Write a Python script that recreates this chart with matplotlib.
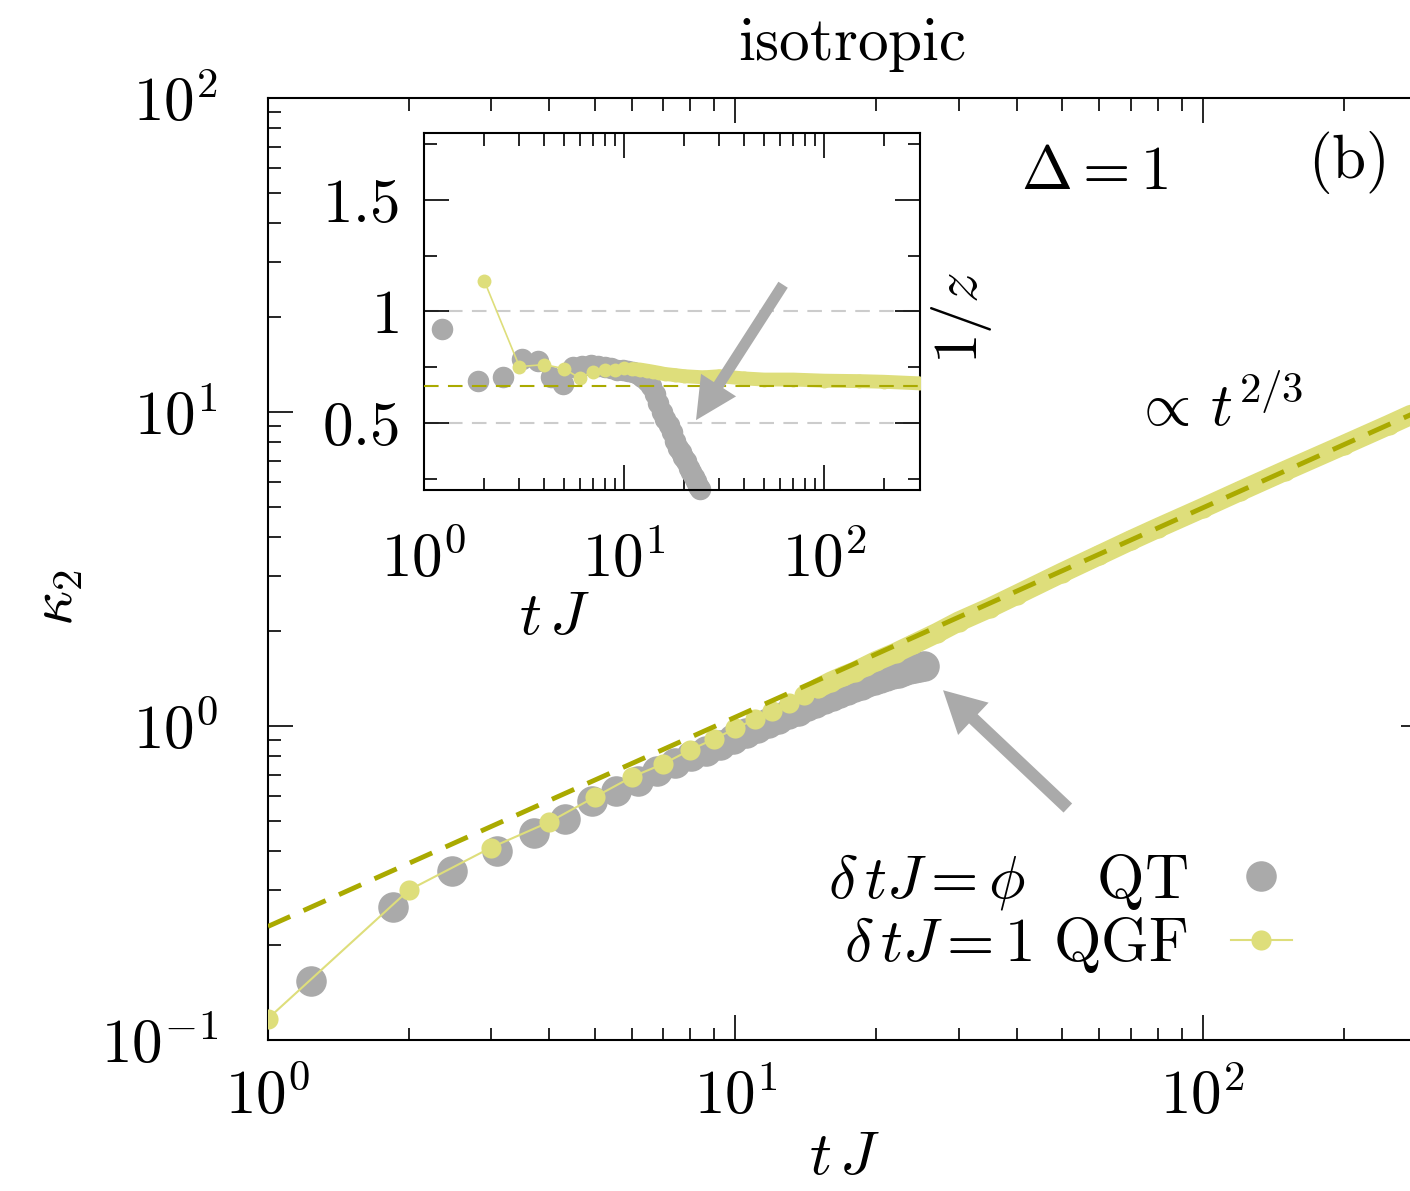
import numpy as np
import matplotlib
matplotlib.use('Agg')
import matplotlib.pyplot as plt
from matplotlib.ticker import FuncFormatter, LogLocator, NullFormatter, MultipleLocator

plt.rcParams['mathtext.fontset'] = 'cm'
plt.rcParams['font.family'] = ['serif']
plt.rcParams['font.serif'] = ['cmr10', 'DejaVu Serif']

# QT data, dt*J = phi
qt_t = [1.236, 1.854, 2.472, 3.090, 3.708, 4.326, 4.944, 5.562, 6.180, 6.798,
        7.416, 8.034, 8.652, 9.270, 9.888, 10.51, 11.12, 11.74, 12.36, 12.98,
        13.60, 14.22, 14.83, 15.45, 16.07, 16.69, 17.31, 17.93, 18.54, 19.16,
        19.78, 20.40, 21.02, 21.63, 22.25, 22.87, 23.49, 24.11, 24.72, 25.34]
qt_k2 = [0.154, 0.265, 0.345, 0.40, 0.455, 0.505, 0.575, 0.623, 0.670, 0.721,
         0.76, 0.80, 0.835, 0.87, 0.91, 0.95, 0.985, 1.02, 1.055, 1.09,
         1.12, 1.155, 1.185, 1.215, 1.245, 1.275, 1.30, 1.33, 1.355, 1.38,
         1.40, 1.425, 1.445, 1.465, 1.48, 1.50, 1.515, 1.53, 1.54, 1.55]
qt_invz = [0.92, 0.69, 0.705, 0.786, 0.777, 0.705, 0.674, 0.75, 0.757, 0.76,
           0.755, 0.75, 0.745, 0.74, 0.738, 0.735, 0.73, 0.72, 0.705, 0.69,
           0.665, 0.63, 0.59, 0.55, 0.52, 0.49, 0.46, 0.42, 0.39, 0.37,
           0.35, 0.33, 0.30, 0.28, 0.26, 0.24, 0.22, 0.205]

# QGF data, dt*J = 1
qgf_t = [1, 2, 3, 4, 5, 6, 7, 8, 9, 10, 11, 12, 13, 14, 15, 16, 17, 18, 19, 20,
         22, 24, 27, 30, 35, 40, 50, 60, 70, 80, 100, 120, 150, 200, 250, 300]
qgf_k2 = [0.117, 0.30, 0.41, 0.495, 0.594, 0.688, 0.757, 0.839, 0.909, 0.983,
          1.05, 1.119, 1.186, 1.255, 1.318, 1.384, 1.44, 1.49, 1.55, 1.61,
          1.71, 1.82, 1.98, 2.15, 2.38, 2.62, 3.08, 3.50, 3.90, 4.27,
          4.95, 5.60, 6.50, 7.85, 9.10, 10.3]
qgf_inv_t = [2, 3, 4, 5, 6, 7, 8, 9, 10, 11, 12, 13, 14, 15, 16, 18, 20, 25,
             30, 40, 50, 70, 100, 150, 200, 300]
qgf_invz = [1.138, 0.753, 0.762, 0.744, 0.702, 0.731, 0.738, 0.737, 0.749, 0.742,
            0.74, 0.735, 0.73, 0.725, 0.72, 0.715, 0.71, 0.705, 0.71, 0.70,
            0.695, 0.695, 0.69, 0.688, 0.685, 0.678]

fit_amp = 0.23
fit_exp = 2.0 / 3.0
fit_t = np.array([1.0, 300.0])

gray = '#aaaaaa'
yellow = '#dede7b'
olive = '#aaaa00'
fs = 44

fig = plt.figure(figsize=(14.1, 11.91), dpi=100)
W, H = 1410.0, 1191.0
ax = fig.add_axes([268 / W, 1 - 1040 / H, 1158 / W, 942 / H])

ax.plot(qt_t, qt_k2, 'o', color=gray, ms=22, mew=0, zorder=2)
t_arr = np.array(qgf_t)
k_arr = np.array(qgf_k2)
band = t_arr >= 15
ax.plot(t_arr[band], k_arr[band], '-', color=yellow, lw=14.5,
        solid_capstyle='round', zorder=3)
ax.plot(qgf_t, qgf_k2, '-o', color=yellow, lw=1.5, ms=14.5, mew=0, zorder=3)
ax.plot(fit_t, fit_amp * fit_t ** fit_exp, color=olive, lw=3.5,
        dashes=(5, 3), zorder=4)

ax.set_xscale('log')
ax.set_yscale('log')
ax.set_xlim(1, 300)
ax.set_ylim(0.1, 100)

logfmt = FuncFormatter(lambda v, p: r'$10^{%d}$' % int(round(np.log10(v))))
for a in (ax.xaxis, ax.yaxis):
    a.set_major_locator(LogLocator(base=10, numticks=10))
    a.set_minor_locator(LogLocator(base=10, subs=np.arange(2, 10), numticks=20))
    a.set_major_formatter(logfmt)
    a.set_minor_formatter(NullFormatter())
ax.tick_params(which='both', direction='in', top=True, right=True, width=1.2)
ax.tick_params(which='major', length=18, labelsize=fs)
ax.tick_params(which='minor', length=9)
ax.tick_params(axis='x', pad=20)
ax.tick_params(axis='y', pad=36)
for s in ax.spines.values():
    s.set_linewidth(1.5)

ax.annotate('', xy=(27.8, 1.30), xytext=(51.4, 0.548),
            arrowprops=dict(color=gray, width=9, headwidth=32, headlength=30, lw=0))

leg = ax.legend([plt.Line2D([], [], ls='none', marker='o', color=gray, ms=22, mew=0),
                 plt.Line2D([], [], ls='-', marker='o', color=yellow, lw=1.5, ms=14.5, mew=0)],
                [r'$\delta\, tJ=\phi\quad\ \mathrm{QT}$', r'$\delta\, tJ=1\ \mathrm{QGF}$'],
                loc='center right', bbox_to_anchor=(0.884, 0.134), frameon=False,
                markerfirst=False, fontsize=fs, handlelength=1.0, handletextpad=0.7,
                labelspacing=0.05, borderpad=0, borderaxespad=0, numpoints=1)

fig.text(852 / W, 1 - 45 / H, r'$\mathrm{isotropic}$', fontsize=fs, ha='center', va='center')
fig.text(57 / W, 1 - 598 / H, r'$\kappa_2$', fontsize=fs, ha='center', va='center', rotation=90)
fig.text(845 / W, 1 - 1158 / H, r'$t\,J$', fontsize=fs, ha='center', va='center')
fig.text(1095 / W, 1 - 173 / H, r'$\Delta=1$', fontsize=fs, ha='center', va='center')
fig.text(1347 / W, 1 - 163 / H, r'$\mathrm{(b)}$', fontsize=fs, ha='center', va='center')
fig.text(1218 / W, 1 - 408 / H, r'$\propto\, t^{2/3}$', fontsize=fs, ha='center', va='center')

# inset
ins = fig.add_axes([424 / W, 1 - 490 / H, 495.5 / W, 357 / H])
ins.axhline(1.0, color='#cccccc', lw=1.5, dashes=(7, 4.5), zorder=1)
ins.axhline(0.5, color='#cccccc', lw=1.5, dashes=(7, 4.5), zorder=1)
ins.plot(qt_t[:len(qt_invz)], qt_invz, 'o', color=gray, ms=15.5, mew=0, zorder=2, clip_on=False)
ti = np.array(qgf_inv_t)
zi = np.array(qgf_invz)
bi = ti >= 11
ins.plot(ti[bi], zi[bi], '-', color=yellow, lw=10, solid_capstyle='round', zorder=3)
ins.plot(qgf_inv_t, qgf_invz, '-o', color=yellow, lw=1.2, ms=10, mew=0, zorder=3)
ins.axhline(fit_exp, color=olive, lw=1.5, dashes=(7, 4.5), zorder=4)
ins.annotate('', xy=(22.9, 0.513), xytext=(62.4, 1.12),
             arrowprops=dict(color=gray, width=8, headwidth=30, headlength=30, lw=0),
             zorder=5)

ins.set_xscale('log')
ins.set_xlim(1, 300)
ins.set_ylim(0.2, 1.8)
ins.xaxis.set_major_locator(LogLocator(base=10, numticks=10))
ins.xaxis.set_minor_locator(LogLocator(base=10, subs=np.arange(2, 10), numticks=20))
ins.xaxis.set_major_formatter(logfmt)
ins.xaxis.set_minor_formatter(NullFormatter())
ins.yaxis.set_major_locator(MultipleLocator(0.5))
ins.yaxis.set_minor_locator(MultipleLocator(0.25))
ins.yaxis.set_major_formatter(FuncFormatter(lambda v, p: r'$%g$' % v))
ins.tick_params(which='both', direction='in', top=True, right=True, width=1.2)
ins.tick_params(which='major', length=18, labelsize=fs)
ins.tick_params(which='minor', length=9)
ins.tick_params(axis='x', pad=30)
ins.tick_params(axis='y', pad=18)
for s in ins.spines.values():
    s.set_linewidth(1.5)

fig.text(555 / W, 1 - 618 / H, r'$t\,J$', fontsize=fs, ha='center', va='center')
fig.text(962 / W, 1 - 318 / H, r'$1/z$', fontsize=fs, ha='center', va='center', rotation=90)

fig.savefig('out.png', dpi=100)
